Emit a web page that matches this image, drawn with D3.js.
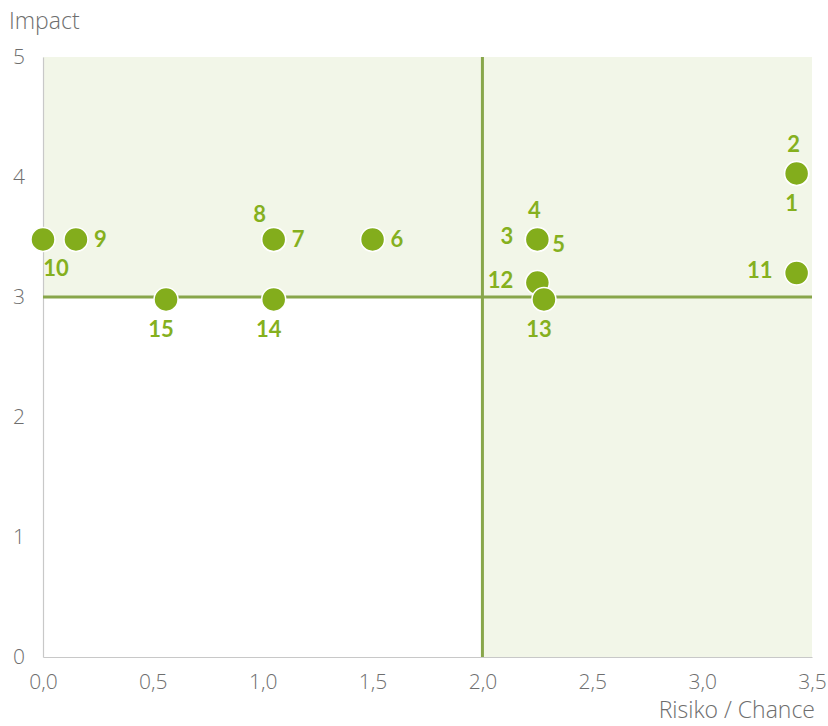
<!DOCTYPE html>
<html>
<head>
<meta charset="utf-8">
<script src="https://cdn.jsdelivr.net/npm/d3@7"></script>
<style>
  html, body { margin: 0; padding: 0; background: #fff; }
  svg { display: block; }
</style>
</head>
<body>
<svg id="chart" width="828" height="726"></svg>
<script>
// ---- data ----
const ids    = ["1", "2", "3", "4", "5", "6", "7", "8", "9", "10", "11", "12", "13", "14", "15"];
const risk   = [3.43, 3.43, 2.25, 2.25, 2.25, 1.50, 1.05, 1.05, 0.15, 0.00, 3.43, 2.25, 2.28, 1.05, 0.56];
const impact = [4.03, 4.03, 3.48, 3.48, 3.48, 3.48, 3.48, 3.48, 3.48, 3.48, 3.20, 3.12, 2.98, 2.98, 2.98];
const labelSide = ["below", "above", "left", "above", "rightLow", "right", "right", "aboveLeft", "right", "belowRight", "left", "left", "below", "below", "below"];
const xTicks = [0, 0.5, 1, 1.5, 2, 2.5, 3, 3.5];
const yTicks = [0, 1, 2, 3, 4, 5];
const xDomain = [0, 3.5];
const yDomain = [0, 5];
const xSplit = 2;
const ySplit = 3;
const xTitle = "Risiko / Chance";
const yTitle = "Impact";

// ---- drawing ----
const svg = d3.select("#chart");
const x = d3.scaleLinear().domain(xDomain).range([43, 812]);
const y = d3.scaleLinear().domain(yDomain).range([657, 57]);

const shade = "#f2f6e8";
const lineCol = "#88a64a";
const pointCol = "#83ad1c";
const labelCol = "#85b01e";
const tickCol = "#6e6e6e";
const tickFont = "'Open Sans', 'Noto Sans', sans-serif";
const labelFont = "Lato, 'Open Sans', sans-serif";

// shaded quadrants: top band (impact >= split) and right band (risk >= split)
svg.append("rect")
  .attr("x", x(xDomain[0])).attr("y", y(yDomain[1]))
  .attr("width", x(xDomain[1]) - x(xDomain[0]))
  .attr("height", y(ySplit) - y(yDomain[1]))
  .attr("fill", shade);
svg.append("rect")
  .attr("x", x(xSplit)).attr("y", y(ySplit))
  .attr("width", x(xDomain[1]) - x(xSplit))
  .attr("height", y(yDomain[0]) - y(ySplit))
  .attr("fill", shade);

// axes
const fmtX = d => d3.format(".1f")(d).replace(".", ",");
const xAxis = d3.axisBottom(x).tickValues(xTicks).tickFormat(fmtX).tickSize(0).tickPadding(17);
const yAxis = d3.axisLeft(y).tickValues(yTicks).tickFormat(d3.format("d")).tickSize(0).tickPadding(18);

const gx = svg.append("g").attr("transform", `translate(0,${y(0)})`).call(xAxis);
const gy = svg.append("g").attr("transform", `translate(${x(0)},0)`).call(yAxis);
[gx, gy].forEach(g => {
  g.select(".domain").attr("stroke", "#c8c8c8").attr("stroke-width", 1.2);
  g.selectAll("text").attr("fill", tickCol).attr("font-family", tickFont)
    .attr("font-size", 21).attr("font-weight", 300);
});
gx.selectAll("text").attr("dy", "0.71em");

// split lines
svg.append("line")
  .attr("x1", x(xDomain[0])).attr("x2", x(xDomain[1]))
  .attr("y1", y(ySplit)).attr("y2", y(ySplit))
  .attr("stroke", lineCol).attr("stroke-width", 3);
svg.append("line")
  .attr("x1", x(xSplit)).attr("x2", x(xSplit))
  .attr("y1", y(yDomain[0])).attr("y2", y(yDomain[1]))
  .attr("stroke", lineCol).attr("stroke-width", 3);

// axis titles
svg.append("text").attr("x", 9).attr("y", 29).text(yTitle)
  .attr("fill", tickCol).attr("font-family", tickFont).attr("font-size", 23).attr("font-weight", 300);
svg.append("text").attr("x", 815).attr("y", 718).attr("text-anchor", "end").text(xTitle)
  .attr("fill", tickCol).attr("font-family", tickFont).attr("font-size", 23).attr("font-weight", 300);

// points
const pts = ids.map((id, i) => ({ id, rx: risk[i], iy: impact[i], side: labelSide[i] }));
svg.append("g").selectAll("circle").data(pts).join("circle")
  .attr("cx", d => x(d.rx)).attr("cy", d => y(d.iy)).attr("r", 12)
  .attr("fill", pointCol).attr("stroke", "#ffffff").attr("stroke-width", 1.5);

// labels
const offsets = {
  above:      { dx: -3, dy: -29, anchor: "middle" },
  below:      { dx: -5, dy: 30, anchor: "middle" },
  left:       { dx: -24, dy: -3, anchor: "end" },
  right:      { dx: 18, dy: 0, anchor: "start" },
  rightLow:   { dx: 15, dy: 5, anchor: "start" },
  aboveLeft:  { dx: -14, dy: -25, anchor: "middle" },
  belowRight: { dx: 13, dy: 29, anchor: "middle" }
};
svg.append("g").selectAll("text").data(pts).join("text")
  .attr("x", d => x(d.rx) + offsets[d.side].dx)
  .attr("y", d => y(d.iy) + offsets[d.side].dy)
  .attr("dy", "0.36em")
  .attr("text-anchor", d => offsets[d.side].anchor)
  .attr("fill", labelCol).attr("font-family", labelFont)
  .attr("font-size", 22).attr("font-weight", 700)
  .text(d => d.id);
</script>
</body>
</html>
